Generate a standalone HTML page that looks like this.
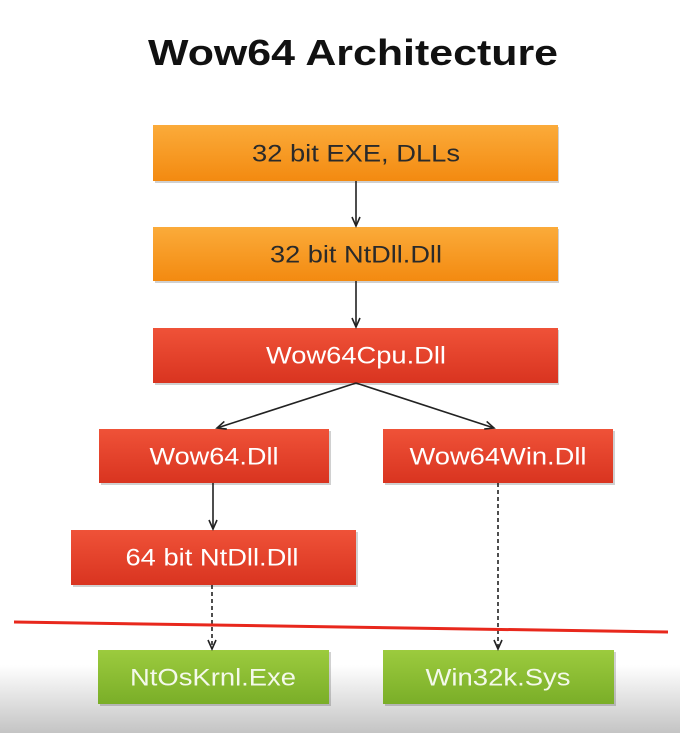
<!DOCTYPE html>
<html><head><meta charset="utf-8"><style>
html,body{margin:0;padding:0;background:#fff;}
svg{display:block;}
text{font-family:"Liberation Sans",Arial,sans-serif;}
</style></head><body>
<svg width="680" height="733" viewBox="0 0 680 733" xmlns="http://www.w3.org/2000/svg">
<defs>
<linearGradient id="bg" x1="0" y1="0" x2="0" y2="1">
<stop offset="0" stop-color="#ffffff"/><stop offset="0.9" stop-color="#ffffff"/><stop offset="1" stop-color="#c9c9c9"/>
</linearGradient>
<linearGradient id="bot" x1="0" y1="0" x2="0" y2="1">
<stop offset="0" stop-color="#ffffff"/><stop offset="1" stop-color="#c4c4c4"/>
</linearGradient>
<linearGradient id="og" x1="0" y1="0" x2="0" y2="1">
<stop offset="0" stop-color="#fbab3a"/><stop offset="1" stop-color="#f38a10"/>
</linearGradient>
<linearGradient id="rg" x1="0" y1="0" x2="0" y2="1">
<stop offset="0" stop-color="#ef5238"/><stop offset="1" stop-color="#d93420"/>
</linearGradient>
<linearGradient id="gg" x1="0" y1="0" x2="0" y2="1">
<stop offset="0" stop-color="#9ccb3e"/><stop offset="1" stop-color="#7aae28"/>
</linearGradient>
<marker id="ah" markerWidth="12" markerHeight="10" refX="10" refY="5" orient="auto" markerUnits="userSpaceOnUse">
<path d="M1,1 L10,5 L1,9" fill="none" stroke="#222" stroke-width="1.6"/>
</marker>
</defs>
<rect x="0" y="0" width="680" height="733" fill="#fff"/>
<rect x="0" y="665" width="680" height="68" fill="url(#bot)"/>

<text x="353" y="65" font-size="36" font-weight="bold" text-anchor="middle" fill="#111" textLength="410" lengthAdjust="spacingAndGlyphs">Wow64 Architecture</text>

<g fill="#000" opacity="0.18">
<rect x="155" y="127" width="404" height="56"/>
<rect x="155" y="229" width="404" height="54"/>
<rect x="155" y="330" width="404" height="55"/>
<rect x="101" y="431" width="230" height="54"/>
<rect x="385" y="431" width="230" height="54"/>
<rect x="73" y="532" width="285" height="55"/>
<rect x="100" y="652" width="231" height="54"/>
<rect x="385" y="652" width="231" height="54"/>
</g>
<rect x="153" y="125" width="405" height="56" fill="url(#og)"/>
<rect x="153" y="227" width="405" height="54" fill="url(#og)"/>
<rect x="153" y="328" width="405" height="55" fill="url(#rg)"/>
<rect x="99" y="429" width="230" height="54" fill="url(#rg)"/>
<rect x="383" y="429" width="230" height="54" fill="url(#rg)"/>
<rect x="71" y="530" width="285" height="55" fill="url(#rg)"/>
<rect x="98" y="650" width="231" height="54" fill="url(#gg)"/>
<rect x="383" y="650" width="231" height="54" fill="url(#gg)"/>

<g font-size="24" text-anchor="middle" dominant-baseline="central">
<text x="356" y="154" fill="#2a2a2a" textLength="208" lengthAdjust="spacingAndGlyphs">32 bit EXE, DLLs</text>
<text x="356" y="255" fill="#2a2a2a" textLength="172" lengthAdjust="spacingAndGlyphs">32 bit NtDll.Dll</text>
<text x="356" y="356" fill="#fff" textLength="180" lengthAdjust="spacingAndGlyphs">Wow64Cpu.Dll</text>
<text x="214" y="457" fill="#fff" textLength="129" lengthAdjust="spacingAndGlyphs">Wow64.Dll</text>
<text x="498" y="457" fill="#fff" textLength="177" lengthAdjust="spacingAndGlyphs">Wow64Win.Dll</text>
<text x="212" y="558" fill="#fff" textLength="173" lengthAdjust="spacingAndGlyphs">64 bit NtDll.Dll</text>
<text x="213" y="678" fill="#f4f9ea" textLength="166" lengthAdjust="spacingAndGlyphs">NtOsKrnl.Exe</text>
<text x="498" y="678" fill="#f4f9ea" textLength="145" lengthAdjust="spacingAndGlyphs">Win32k.Sys</text>
</g>

<g stroke="#222" stroke-width="1.6" fill="none">
<line x1="356" y1="181" x2="356" y2="226" marker-end="url(#ah)"/>
<line x1="356" y1="281" x2="356" y2="327" marker-end="url(#ah)"/>
<line x1="356" y1="383" x2="217" y2="428" marker-end="url(#ah)"/>
<line x1="356" y1="383" x2="494" y2="428" marker-end="url(#ah)"/>
<line x1="213" y1="483" x2="213" y2="529" marker-end="url(#ah)"/>
<line x1="212" y1="585" x2="212" y2="649" stroke-dasharray="4,3" marker-end="url(#ah)"/>
<line x1="498" y1="483" x2="498" y2="649" stroke-dasharray="4,3" marker-end="url(#ah)"/>
</g>
<line x1="14" y1="622" x2="668" y2="632" stroke="#e8281c" stroke-width="3"/>
</svg>
</body></html>
